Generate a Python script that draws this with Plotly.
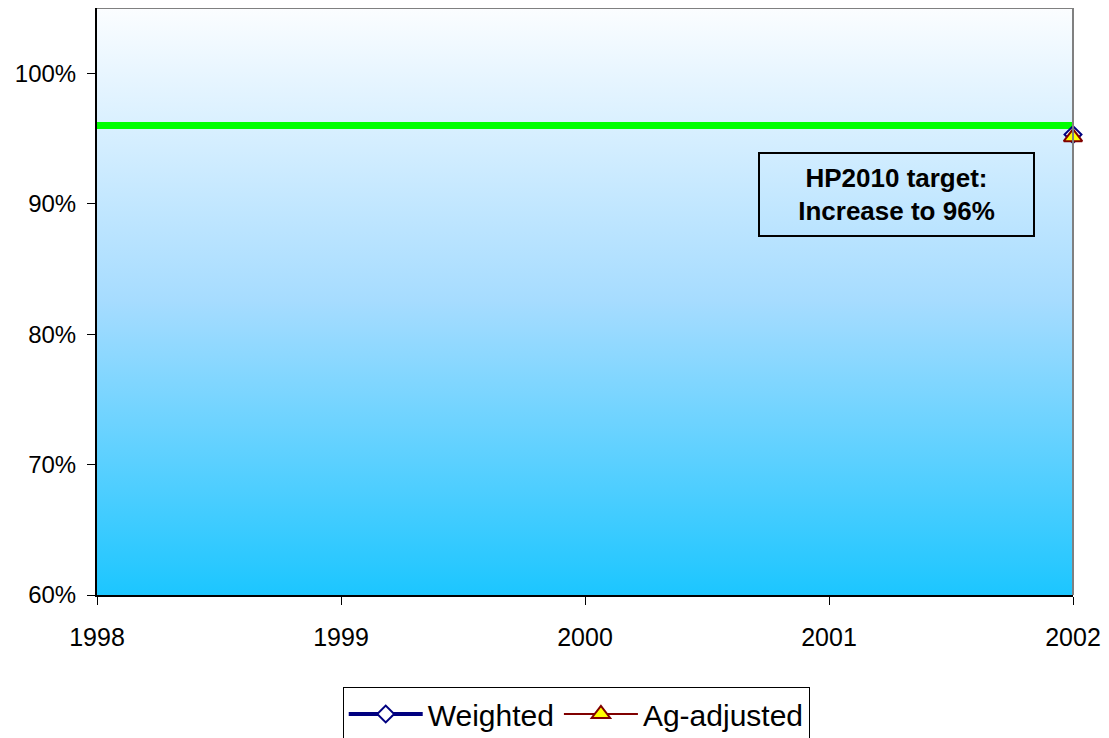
import plotly.graph_objects as go

years = [1998, 1999, 2000, 2001, 2002]
weighted = [None, None, None, None, 95.3]
ag_adjusted = [None, None, None, None, 95.1]
target = [96, 96, 96, 96, 96]
y_ticks = [60, 70, 80, 90, 100]
y_tick_labels = ["60%", "70%", "80%", "90%", "100%"]
y_range = [60, 105]

fig = go.Figure()

# gradient background
fig.add_trace(go.Scatter(
    x=[years[0], years[-1], years[-1], years[0]],
    y=[y_range[0], y_range[0], y_range[1], y_range[1]],
    fill="toself", mode="lines", line=dict(width=0),
    fillgradient=dict(type="vertical",
                      colorscale=[[0, "#1cc6ff"], [0.5, "#a6dcff"], [1, "#fbfdff"]]),
    showlegend=False, hoverinfo="skip"))

fig.add_trace(go.Scatter(
    x=years, y=target, mode="lines", line=dict(color="#00ff00", width=7),
    showlegend=False, hoverinfo="skip", cliponaxis=False))

fig.add_trace(go.Scatter(
    x=years, y=weighted, name="Weighted", mode="lines+markers",
    line=dict(color="#000080", width=4),
    marker=dict(symbol="diamond", size=13, color="white",
                line=dict(color="#000080", width=2)),
    cliponaxis=False))

fig.add_trace(go.Scatter(
    x=years, y=ag_adjusted, name="Ag-adjusted", mode="lines+markers",
    line=dict(color="#800000", width=2),
    marker=dict(symbol="triangle-up", size=16, color="#ffff00",
                line=dict(color="#800000", width=2)),
    cliponaxis=False))

fig.add_annotation(
    x=2001.276, y=90.73, xref="x", yref="y",
    text="<b>HP2010 target:<br>Increase to 96%</b>", showarrow=False,
    font=dict(family="Arial, Liberation Sans", size=26, color="black"),
    bordercolor="black", borderwidth=2, borderpad=2, width=269, height=77,
    align="center")

# top and right border of plot area
fig.add_shape(type="line", xref="paper", yref="paper", x0=0, x1=1, y0=1, y1=1,
              line=dict(color="#808080", width=2), layer="above")
fig.add_shape(type="line", xref="paper", yref="paper", x0=1, x1=1, y0=0, y1=1,
              line=dict(color="#808080", width=2), layer="above")

fig.update_layout(
    width=1101, height=730,
    margin=dict(l=89, r=36, t=0, b=143),
    paper_bgcolor="white", plot_bgcolor="white",
    font=dict(family="Arial, Liberation Sans", size=25, color="black"),
    showlegend=True,
    legend=dict(orientation="h", x=0.491, xanchor="center",
                yref="container", y=1 - 679 / 730, yanchor="top",
                bordercolor="black", borderwidth=1, bgcolor="white",
                font=dict(size=30), itemwidth=74, tracegroupgap=0),
    xaxis=dict(range=[years[0], years[-1]], tickvals=years, showgrid=False,
               zeroline=False, showline=True, linecolor="black", linewidth=2,
               ticks="outside", ticklen=8, tickcolor="black", ticklabelstandoff=11,
               tickfont=dict(size=25)),
    yaxis=dict(range=y_range, tickvals=y_ticks, ticktext=y_tick_labels, showgrid=False,
               zeroline=False, showline=True, linecolor="black", linewidth=2,
               ticks="outside", ticklen=8, tickcolor="black", ticklabelstandoff=6,
               tickfont=dict(size=24)),
)

fig.write_html("out.html")
